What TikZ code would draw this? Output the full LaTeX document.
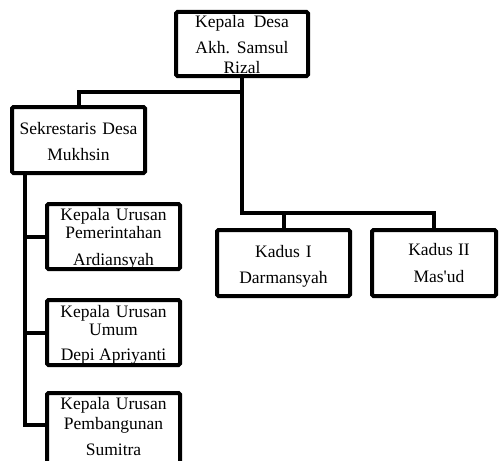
\documentclass[tikz,border=0pt]{standalone}
\usepackage{fontspec}
\setmainfont{Liberation Serif}
\newcommand{\gap}[1]{\hspace{#1pt}}
\begin{document}
\begin{tikzpicture}[x=1pt,y=-1pt,
  box/.style={draw=black,line width=4pt,rounded corners=1.5pt,fill=white,inner sep=0pt},
  conn/.style={draw=black,line width=4pt,line join=miter,line cap=rect},
  lbl/.style={anchor=base,inner sep=0pt,font=\fontsize{17.5}{17.5}\selectfont}]
\useasboundingbox (0,0) rectangle (500,460);
% junction points
\coordinate (busK) at (242,213);
\coordinate (busS) at (242,92);
\coordinate (spine) at (25,0);
% boxes
\node[box,minimum width=132pt,minimum height=64pt] (kd) at (242,44) {};
\node[box,minimum width=133pt,minimum height=66pt] (sd) at (78.5,140) {};
\node[box,minimum width=133pt,minimum height=65pt] (p1) at (113.5,236.5) {};
\node[box,minimum width=133pt,minimum height=65pt] (p2) at (113.5,332.5) {};
\node[box,minimum width=133pt,minimum height=80pt] (p3) at (113.5,433) {};
\node[box,minimum width=133pt,minimum height=66pt] (k1) at (283.5,263) {};
\node[box,minimum width=124pt,minimum height=66pt] (k2) at (434,263) {};
% connectors
\draw[conn] (kd.south) -- (busK) -| (k2.north);
\draw[conn] (busK -| k1.north) -- (k1.north);
\draw[conn] (busS) -| (sd.north);
\draw[conn] (sd.south -| spine) -- (spine |- 0,425) -- (p3.west |- 0,425);
\draw[conn] (spine |- p1.west) -- (p1.west);
\draw[conn] (spine |- p2.west) -- (p2.west);
% labels
\node[lbl] (kdA) at (242,28) {Kepala\gap{9}Desa};
\node[lbl] (kdB) at (242,54) {Akh.\gap{7}Samsul};
\node[lbl] (kdC) at (242,73) {Rizal};
\node[lbl] (sdA) at (78.5,134) {Sekrestaris\gap{6}Desa};
\node[lbl] (sdB) at (78.5,160) {Mukhsin};
\node[lbl] (p1A) at (113.5,220) {Kepala\gap{6}Urusan};
\node[lbl] (p1B) at (113.5,238) {Pemerintahan};
\node[lbl] (p1C) at (113.5,265) {Ardiansyah};
\node[lbl] (p2A) at (113.5,317) {Kepala\gap{6}Urusan};
\node[lbl] (p2B) at (113.5,335) {Umum};
\node[lbl] (p2C) at (113.5,360) {Depi Apriyanti};
\node[lbl] (p3A) at (113.5,409) {Kepala\gap{6}Urusan};
\node[lbl] (p3B) at (113.5,429) {Pembangunan};
\node[lbl] (p3C) at (113.5,455) {Sumitra};
\node[lbl] (k1A) at (283.5,257) {Kadus\gap{6}I};
\node[lbl] (k1B) at (283.5,283) {Darmansyah};
\node[lbl] (k2A) at (439,255) {Kadus\gap{5}II};
\node[lbl] (k2B) at (439,282) {Mas\textquotesingle ud};
\end{tikzpicture}
\end{document}
